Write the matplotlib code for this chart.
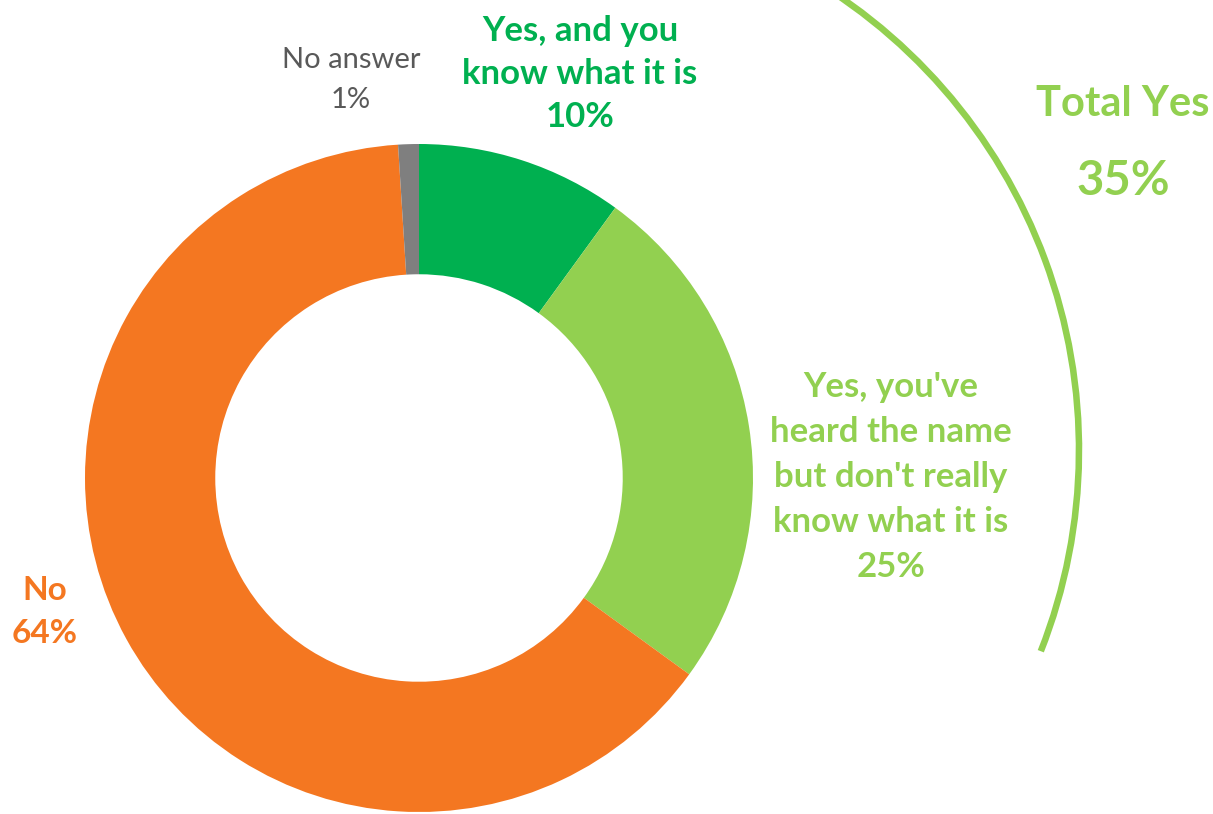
import matplotlib.pyplot as plt
from matplotlib.patches import Arc

# survey answers, clockwise from 12 o'clock
labels = ["Yes, and you\nknow what it is",
          "Yes, you've\nheard the name\nbut don't really\nknow what it is",
          "No",
          "No answer"]
values = [10, 25, 64, 1]
colors = ["#00B050", "#92D050", "#F47721", "#7F7F7F"]
text_colors = ["#00B050", "#92D050", "#F47721", "#595959"]
total_yes = values[0] + values[1]

plt.rcParams['font.family'] = ['Lato', 'DejaVu Sans']

fig = plt.figure(figsize=(12.13, 8.14), dpi=100)
ax = fig.add_axes([0, 0, 1, 1])

H = 814
cx, cy, r = 419, H - 478, 334
ax.pie(values, colors=colors, startangle=90, counterclock=False,
       center=(cx, cy), radius=r, frame=True,
       wedgeprops=dict(width=r * 0.39, linewidth=0))
ax.set_xlim(0, 1213)
ax.set_ylim(0, 814)
ax.set_aspect('equal')
ax.axis('off')

# bracket arc for the "yes" answers
arc = Arc((530, H - 450), 2 * 549, 2 * 549, theta1=-21.5, theta2=62,
          color="#92D050", lw=4.7)
ax.add_patch(arc)

# slice labels
pos = [(580, H - 74), (891, H - 477), (45, H - 612), (351, H - 80)]
sizes = [25, 25, 24, 21]
spacing = [1.43, 1.5, 1.62, 1.62]
for i in range(len(values)):
    txt = labels[i] + "\n" + str(values[i]) + "%"
    w = 'normal' if labels[i] == "No answer" else 'bold'
    ax.text(pos[i][0], pos[i][1], txt, ha='center', va='center',
            multialignment='center', fontsize=sizes[i], fontweight=w,
            color=text_colors[i], linespacing=spacing[i])

ax.text(1123, H - 104, "Total Yes", ha='center', va='center',
        fontsize=30, fontweight='bold', color="#92D050")
ax.text(1123, H - 181, str(total_yes) + "%", ha='center', va='center',
        fontsize=34, fontweight='bold', color="#92D050")

fig.savefig("out.png", dpi=100)
